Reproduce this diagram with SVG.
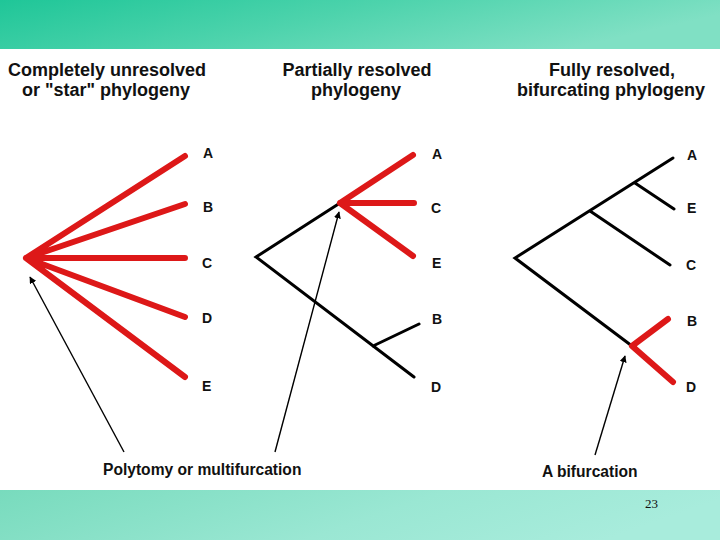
<svg xmlns="http://www.w3.org/2000/svg" width="720" height="540" viewBox="0 0 720 540">
<defs>
<linearGradient id="gTop" x1="0" y1="0" x2="1" y2="0.3">
<stop offset="0" stop-color="#1fc698"/>
<stop offset="0.5" stop-color="#4dd3ac"/>
<stop offset="1" stop-color="#80e0c4"/>
</linearGradient>
<linearGradient id="gBot" x1="0" y1="0" x2="1" y2="0.2">
<stop offset="0" stop-color="#78dbbd"/>
<stop offset="0.6" stop-color="#9ae7d3"/>
<stop offset="1" stop-color="#a8ecdc"/>
</linearGradient>
<marker id="arr" viewBox="0 0 10 10" refX="9" refY="5" markerWidth="7" markerHeight="7" markerUnits="userSpaceOnUse" orient="auto">
<path d="M0,0 L10,5 L0,10 z" fill="#000"/>
</marker>
<style>
.title{font-family:"Liberation Sans",Arial,sans-serif;font-weight:bold;font-size:18px;fill:#111;text-anchor:middle}
.lab{font-family:"Liberation Sans",Arial,sans-serif;font-weight:bold;font-size:14px;fill:#111}
.cap{font-family:"Liberation Sans",Arial,sans-serif;font-weight:bold;font-size:15.6px;fill:#111}
.red{stroke:#dd1818;stroke-width:6;stroke-linecap:round;fill:none}
.blk{stroke:#000;stroke-width:3;stroke-linecap:round;fill:none}
.ptr{stroke:#000;stroke-width:1.4;fill:none;marker-end:url(#arr)}
</style>
</defs>
<rect x="0" y="0" width="720" height="540" fill="#fff"/>
<rect x="0" y="0" width="720" height="49" fill="url(#gTop)"/>
<rect x="0" y="490" width="720" height="50" fill="url(#gBot)"/>

<g id="titles">
<text class="title" x="107" y="76">Completely unresolved</text>
<text class="title" x="106" y="96">or "star" phylogeny</text>
<text class="title" x="357" y="76">Partially resolved</text>
<text class="title" x="356" y="96">phylogeny</text>
<text class="title" x="612" y="76">Fully resolved,</text>
<text class="title" x="611" y="96">bifurcating phylogeny</text>
</g>

<g id="star-tree">
<path class="red" d="M26,258 L185,156 M26,258 L185,204 M26,258 L185,258 M26,258 L185,317 M26,258 L185,377"/>
<text class="lab" x="203" y="158">A</text>
<text class="lab" x="203" y="212">B</text>
<text class="lab" x="202" y="268">C</text>
<text class="lab" x="202" y="323">D</text>
<text class="lab" x="202" y="391">E</text>
</g>

<g id="partial-tree">
<path class="blk" d="M340,203 L256,257 L414,377 M373,346 L419,324"/>
<path class="red" d="M340,203 L413,155 M340,203 L414,203 M340,203 L413,256"/>
<text class="lab" x="432" y="159">A</text>
<text class="lab" x="431" y="213">C</text>
<text class="lab" x="432" y="268">E</text>
<text class="lab" x="432" y="324">B</text>
<text class="lab" x="431" y="392">D</text>
</g>

<g id="full-tree">
<path class="blk" d="M673,158 L515,258 L632,346 M590,211 L670,265 M635,183 L674,209"/>
<path class="red" d="M632,346 L668,319 M632,346 L673,382"/>
<text class="lab" x="687" y="160">A</text>
<text class="lab" x="687" y="213">E</text>
<text class="lab" x="686" y="270">C</text>
<text class="lab" x="687" y="326">B</text>
<text class="lab" x="686" y="392">D</text>
</g>

<g id="connectors">
<line class="ptr" x1="124" y1="452" x2="30" y2="277"/>
<line class="ptr" x1="275" y1="452" x2="339" y2="212"/>
<line class="ptr" x1="595" y1="455" x2="625" y2="356"/>
</g>

<g id="captions">
<text class="cap" x="103" y="475">Polytomy or multifurcation</text>
<text class="cap" x="542" y="477">A bifurcation</text>
<text x="645" y="508" style="font-family:'Liberation Serif','Times New Roman',serif;font-size:13px;fill:#111">23</text>
</g>
</svg>
